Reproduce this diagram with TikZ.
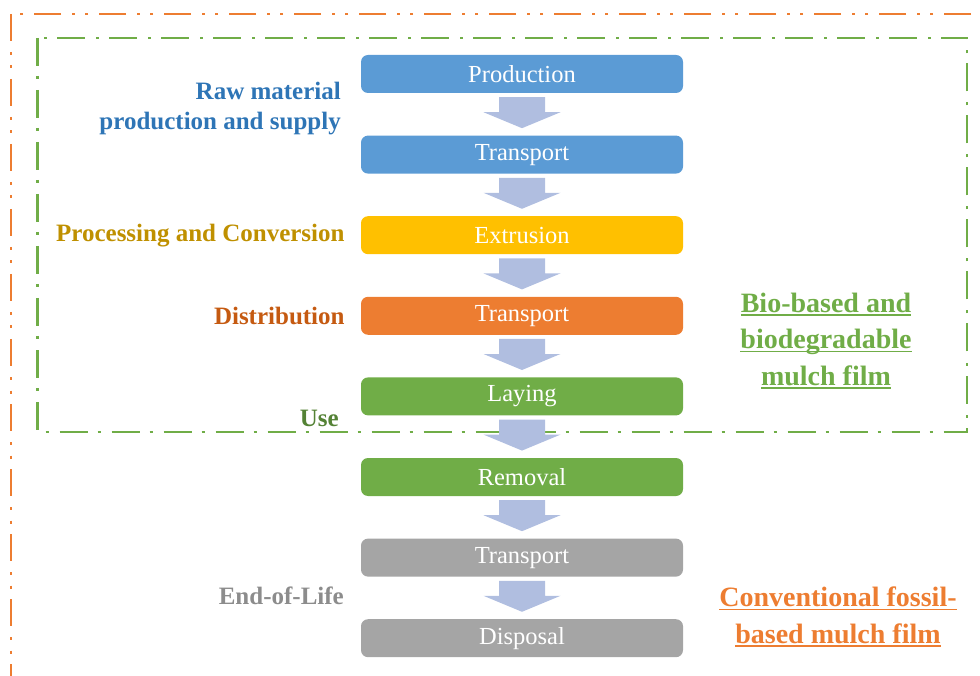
\documentclass[tikz,border=0pt]{standalone}
\usepackage{fontspec}
\setmainfont{Liberation Serif}
\usetikzlibrary{positioning,calc}

\definecolor{rawblue}{HTML}{5B9BD5}
\definecolor{rawtext}{HTML}{2E75B6}
\definecolor{procgold}{HTML}{FFC000}
\definecolor{proctext}{HTML}{BF9000}
\definecolor{distorange}{HTML}{ED7D31}
\definecolor{disttext}{HTML}{C55A11}
\definecolor{usegreen}{HTML}{70AD47}
\definecolor{usetext}{HTML}{548235}
\definecolor{eolgrey}{HTML}{A5A5A5}
\definecolor{eoltext}{HTML}{8C8C8C}
\definecolor{arrowblue}{HTML}{B0BEE0}

% underline at a fixed depth, also through descenders
\newcommand{\filmline}[1]{\setbox0\hbox{#1}\rlap{\rule[-3.5pt]{\wd0}{1.6pt}}\box0}

\begin{document}
\begin{tikzpicture}[x=1pt,y=1pt]
    \tikzstyle{stage}=[rectangle, rounded corners=7pt, minimum width=322pt, minimum height=38pt, inner sep=0pt, text=white, font=\fontsize{24.5}{28}\selectfont]
    \tikzstyle{flow}=[fill=arrowblue]
    \tikzstyle{phase}=[anchor=east, align=right, inner sep=0pt, font=\fontsize{25}{30}\selectfont\bfseries]
    \tikzstyle{film}=[align=center, inner sep=0pt, font=\fontsize{28}{36.5}\selectfont\bfseries]
    \useasboundingbox (0,0) rectangle (980,-676);
    \clip (0,0) rectangle (980,-676);

    % system boundaries
    \draw[distorange, line width=2.8pt, dash pattern=on 27pt off 11pt on 3pt off 10.5pt on 3pt off 10.5pt] (11,-14) rectangle (1020,-720);
    \draw[usegreen, line width=2.6pt, dash pattern=on 28pt off 10pt on 3pt off 11pt] (37.5,-38) rectangle (967,-432);

    % life cycle stages
    \node[stage, fill=rawblue] (prod) at (522,-74) {Production};
    \node[stage, fill=rawblue, below=42.2pt of prod] (haul1) {Transport};
    \node[stage, fill=procgold, below=42.2pt of haul1] (extr) {Extrusion};
    \node[stage, fill=distorange, below=42.2pt of extr] (haul2) {Transport};
    \node[stage, fill=usegreen, below=42.2pt of haul2] (lay) {Laying};
    \node[stage, fill=usegreen, below=42.2pt of lay] (remv) {Removal};
    \node[stage, fill=eolgrey, below=42.2pt of remv] (haul3) {Transport};
    \node[stage, fill=eolgrey, below=42.2pt of haul3] (disp) {Disposal};

    % block arrows between the stages
    \foreach \a in {prod, haul1, extr, haul2, lay, remv, haul3}
      \fill[flow] ($(\a.south)+(-23,-4)$) -- ++(46,0) -- ++(0,-15) -- ++(15.5,0)
        -- ++(-38.5,-16) -- ++(-38.5,16) -- ++(15.5,0) -- cycle;

    % phase labels
    \node[phase, text=rawtext] (lraw) at (341,-109) {Raw material\\production and supply};
    \node[phase, text=proctext, left=16pt of extr] (lproc) {Processing and Conversion};
    \node[phase, text=disttext, left=16pt of haul2] (ldist) {Distribution};
    \node[phase, text=usetext] (luse) at (339,-418) {Use};
    \node[phase, text=eoltext] (leol) at (344,-596) {End-of-Life};

    % film types
    \node[film, text=usegreen] (biofilm) at (826,-341) {\filmline{Bio-based and}\\\filmline{biodegradable}\\\filmline{mulch film}};
    \node[film, text=distorange] (fossilfilm) at (838,-617) {\filmline{Conventional fossil-}\\\filmline{based mulch film}};
\end{tikzpicture}
\end{document}
